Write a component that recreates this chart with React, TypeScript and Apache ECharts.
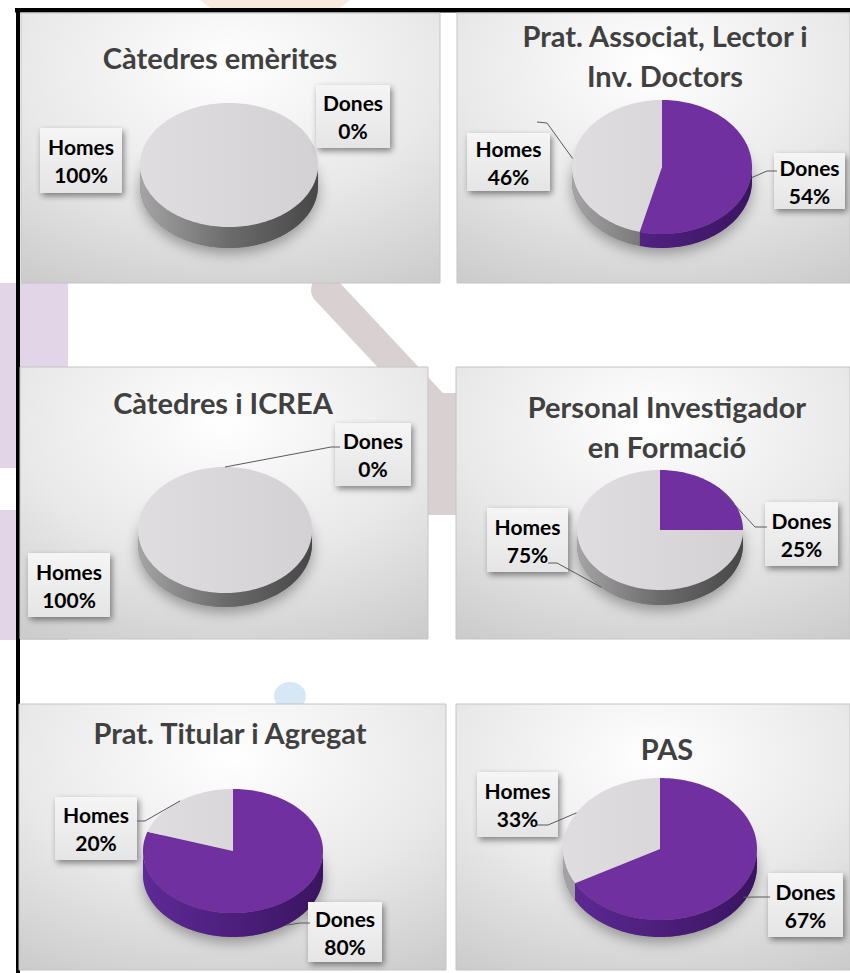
import React, { useEffect, useRef } from 'react';
import * as echarts from 'echarts';

// ---------- data ----------
const categories = ['Dones', 'Homes'];
const chartTitles = [
  'Càtedres emèrites',
  'Prat. Associat, Lector i\nInv. Doctors',
  'Càtedres i ICREA',
  'Personal Investigador\nen Formació',
  'Prat. Titular i Agregat',
  'PAS',
];
const donesPct = [0, 54, 0, 25, 80, 67];
const homesPct = [100, 46, 100, 75, 20, 33];

// ---------- layout ----------
const panels = [
  { x: 21, y: 13, w: 419, h: 270 },
  { x: 457, y: 13, w: 393, h: 270 },
  { x: 20, y: 367, w: 408, h: 272 },
  { x: 456, y: 367, w: 394, h: 272 },
  { x: 19, y: 704, w: 427, h: 266 },
  { x: 456, y: 704, w: 394, h: 266 },
];
const pies = [
  { cx: 229, cy: 165, rx: 89, ry: 62, d: 21 },
  { cx: 662, cy: 167, rx: 90, ry: 67, d: 14 },
  { cx: 225, cy: 530, rx: 87, ry: 63, d: 14 },
  { cx: 660, cy: 530, rx: 83, ry: 60, d: 15 },
  { cx: 233, cy: 851, rx: 90, ry: 62, d: 24 },
  { cx: 660, cy: 849, rx: 97, ry: 71, d: 17 },
];
const titlePos = [
  { x: 220, y: 57 },
  { x: 665, y: 55 },
  { x: 223, y: 402 },
  { x: 667, y: 426 },
  { x: 230, y: 732 },
  { x: 667, y: 748 },
];
type Lab = { box: number[]; leader?: number[][] };
const labelLayout: Lab[][] = [
  [{ box: [316, 85, 74, 63] }, { box: [40, 128, 82, 65] }],
  [
    { box: [774, 153, 71, 56], leader: [[777, 171], [767, 171]] },
    { box: [467, 133, 83, 58], leader: [[537, 122], [547, 123]] },
  ],
  [{ box: [335, 423, 76, 63], leader: [[340, 447], [331, 447]] }, { box: [28, 553, 82, 64] }],
  [
    { box: [765, 502, 73, 64], leader: [[767, 527], [755, 527]] },
    { box: [487, 508, 81, 64], leader: [[548, 563], [557, 563]] },
  ],
  [
    { box: [308, 902, 74, 60], leader: [[310, 923], [300, 923]] },
    { box: [55, 797, 82, 63], leader: [[137, 821], [145, 821]] },
  ],
  [
    { box: [768, 873, 75, 64], leader: [[770, 897], [758, 897]] },
    { box: [477, 772, 81, 65], leader: [[537, 825], [548, 825]] },
  ],
];

const FONT = 'Lato, "Open Sans", "Noto Sans", sans-serif';
const TAU = Math.PI * 2;

function sideFill(cat: number, g: any) {
  const stops =
    cat === 0
      ? [
          { offset: 0, color: '#5e2a97' },
          { offset: 1, color: '#3a1460' },
        ]
      : [
          { offset: 0, color: '#a5a5a5' },
          { offset: 0.5, color: '#6b6b6b' },
          { offset: 1, color: '#474747' },
        ];
  return new echarts.graphic.LinearGradient(g.cx - g.rx, 0, g.cx + g.rx, 0, stops, true);
}
function topFill(cat: number, g: any) {
  if (cat === 0) return '#7030a0';
  return new echarts.graphic.LinearGradient(
    g.cx - g.rx,
    0,
    g.cx + g.rx,
    0,
    [
      { offset: 0, color: '#dfdddf' },
      { offset: 1, color: '#d3d1d3' },
    ],
    true
  );
}

function makeRender(p: number) {
  return (params: any, api: any) => {
    const i = params.dataIndex;
    const vals = [donesPct[p], homesPct[p]];
    const total = vals.reduce((s, v) => s + v, 0);
    let before = 0;
    for (let k = 0; k < i; k++) before += vals[k];
    const v = api.value(0);
    const a0 = (before / total) * TAU;
    const a1 = ((before + v) / total) * TAU;
    const g = pies[p];
    const P = (a: number, dy = 0) => [g.cx + g.rx * Math.sin(a), g.cy - g.ry * Math.cos(a) + dy];
    const arc = (s: number, e: number, dy = 0) => {
      const n = Math.max(2, Math.ceil(Math.abs(e - s) / 0.03));
      const out: number[][] = [];
      for (let k = 0; k <= n; k++) out.push(P(s + ((e - s) * k) / n, dy));
      return out;
    };
    const children: any[] = [];
    if (i === 0) {
      children.push({
        type: 'polygon',
        z2: 0,
        shape: { points: arc(0, TAU, g.d) },
        style: { fill: '#777777', shadowBlur: 14, shadowColor: 'rgba(0,0,0,0.35)', shadowOffsetY: 5 },
      });
    }
    if (a1 > a0) {
      const s = Math.max(a0, Math.PI / 2);
      const e = Math.min(a1, (3 * Math.PI) / 2);
      if (e > s) {
        children.push({
          type: 'polygon',
          z2: 1,
          shape: { points: arc(s, e).concat(arc(e, s, g.d)) },
          style: { fill: sideFill(i, g) },
        });
      }
      const top = a1 - a0 >= TAU - 1e-9 ? arc(0, TAU) : [[g.cx, g.cy]].concat(arc(a0, a1));
      children.push({ type: 'polygon', z2: 2, shape: { points: top }, style: { fill: topFill(i, g) } });
    }
    const lab = labelLayout[p][i];
    const [bx, by, bw, bh] = lab.box;
    children.push({
      type: 'rect',
      z2: 5,
      shape: { x: bx, y: by, width: bw, height: bh },
      style: {
        fill: new echarts.graphic.LinearGradient(0, 0, 0, 1, [
          { offset: 0, color: '#f5f5f5' },
          { offset: 1, color: '#e5e5e5' },
        ]),
        shadowBlur: 6,
        shadowOffsetX: 2,
        shadowOffsetY: 3,
        shadowColor: 'rgba(0,0,0,0.45)',
      },
    });
    if (lab.leader) {
      const m = (a0 + a1) / 2;
      const f = Math.min(1, Math.max(0, -Math.cos(m) * 1.4));
      const t = P(m, g.d * f);
      children.push({
        type: 'polyline',
        z2: 6,
        shape: { points: [lab.leader[0], lab.leader[1], t] },
        style: { stroke: '#5a5a5a', lineWidth: 1, fill: null },
      });
    }
    children.push({
      type: 'text',
      z2: 7,
      x: bx + bw / 2,
      y: by + bh / 2,
      style: {
        text: categories[i] + '\n' + v + '%',
        font: 'bold 21px ' + FONT,
        fill: '#000000',
        align: 'center',
        verticalAlign: 'middle',
        textAlign: 'center',
        textVerticalAlign: 'middle',
        lineHeight: 28,
      },
    });
    return { type: 'group', children };
  };
}

export default function App() {
  const ref = useRef<HTMLDivElement>(null);
  useEffect(() => {
    document.body.style.margin = '0';
    const chart = echarts.init(ref.current as HTMLDivElement, null, { renderer: 'svg' });

    const deco: any[] = [
      // faint background decorations
      { type: 'polygon', shape: { points: [[200, 0], [350, 0], [340, 8], [210, 8]] }, style: { fill: '#f8ebde' } },
      { type: 'rect', shape: { x: 0, y: 283, width: 68, height: 185 }, style: { fill: '#e1d5e7' } },
      { type: 'rect', shape: { x: 0, y: 510, width: 68, height: 130 }, style: { fill: '#e1d5e7' } },
      {
        type: 'line',
        shape: { x1: 326, y1: 290, x2: 560, y2: 540 },
        style: { stroke: '#d9d1d1', lineWidth: 30, lineCap: 'round' },
      },
      { type: 'rect', shape: { x: 428, y: 393, width: 28, height: 122, r: [8, 0, 0, 0] }, style: { fill: '#d9d1d1' } },
      { type: 'ellipse', shape: { cx: 290, cy: 696, rx: 16, ry: 14 }, style: { fill: '#d6e8f5' } },
      // black frame
      { type: 'rect', shape: { x: 15, y: 8, width: 835, height: 4.5 }, style: { fill: '#000000' } },
      { type: 'rect', shape: { x: 16, y: 8, width: 4, height: 965 }, style: { fill: '#000000' } },
    ];
    const panelEls = panels.map((b) => ({
      type: 'rect',
      shape: { x: b.x, y: b.y, width: b.w, height: b.h },
      style: {
        fill: new echarts.graphic.RadialGradient(0.5, 0.2, 1.1, [
          { offset: 0, color: '#ffffff' },
          { offset: 0.45, color: '#e9e9e9' },
          { offset: 1, color: '#c0c0c0' },
        ]),
        stroke: '#c4c4c4',
        lineWidth: 1,
      },
    }));
    const titleEls = chartTitles.map((t, k) => ({
      type: 'text',
      x: titlePos[k].x,
      y: titlePos[k].y,
      style: {
        text: t,
        font: 'bold 29px ' + FONT,
        fill: '#404040',
        align: 'center',
        verticalAlign: 'middle',
        textAlign: 'center',
        textVerticalAlign: 'middle',
        lineHeight: 40,
      },
    }));

    const series = chartTitles.map((t, p) => ({
      type: 'custom',
      name: t,
      coordinateSystem: 'none',
      z: 5,
      renderItem: makeRender(p),
      data: [
        { name: categories[0], value: donesPct[p] },
        { name: categories[1], value: homesPct[p] },
      ],
    }));

    chart.setOption({
      animation: false,
      backgroundColor: '#ffffff',
      graphic: { elements: [...deco, ...panelEls, ...titleEls] },
      series,
    });
    return () => chart.dispose();
  }, []);
  return <div ref={ref} style={{ width: 850, height: 973 }} />;
}
